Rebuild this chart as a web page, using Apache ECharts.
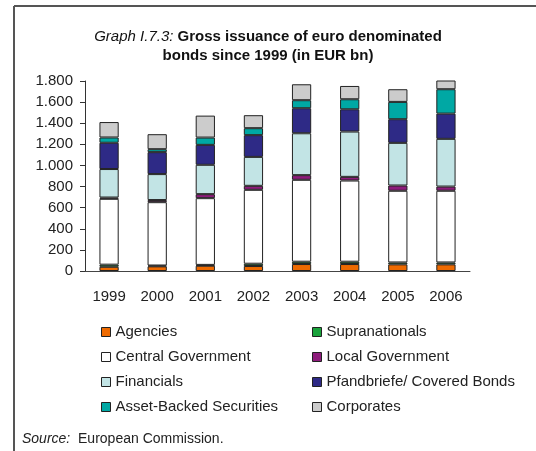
<!DOCTYPE html>
<html>
<head>
<meta charset="utf-8">
<script src="https://cdn.jsdelivr.net/npm/echarts@6/dist/echarts.min.js"></script>
<style>
html,body{margin:0;padding:0;background:#fff;}
#chart{width:536px;height:451px;}
</style>
</head>
<body>
<div id="chart"></div>
<script>
var years = ['1999','2000','2001','2002','2003','2004','2005','2006'];
var yTicks = [0,200,400,600,800,1000,1200,1400,1600,1800];
var agencies       = [40, 44, 50, 47, 66, 66, 63, 63];
var supranationals = [20, 8, 8, 22, 22, 22, 18, 18];
var centralGov     = [624, 600, 632, 700, 776, 769, 679, 679];
var localGov       = [12, 20, 38, 38, 44, 35, 50, 40];
var financials     = [270, 246, 278, 274, 397, 429, 404, 452];
var pfandbriefe    = [249, 208, 189, 206, 237, 211, 224, 239];
var abs            = [50, 28, 69, 66, 76, 95, 164, 231];
var corporates     = [146, 142, 208, 123, 151, 126, 120, 110];

var seriesDefs = [
  ['Agencies', agencies, '#EE6A00'],
  ['Supranationals', supranationals, '#1AA33C'],
  ['Central Government', centralGov, '#FFFFFF'],
  ['Local Government', localGov, '#8E1C7C'],
  ['Financials', financials, '#C2E4E5'],
  ['Pfandbriefe/ Covered Bonds', pfandbriefe, '#2E2A86'],
  ['Asset-Backed Securities', abs, '#00A8A4'],
  ['Corporates', corporates, '#CCCCCC']
];

var chart = echarts.init(document.getElementById('chart'));
var FONT = '"Liberation Sans", Arial, sans-serif';

var series = seriesDefs.map(function(d){
  return {
    name: d[0], type: 'bar', stack: 'total', data: d[1],
    barWidth: '40%',
    itemStyle: {color: d[2], borderColor: '#222', borderWidth: 1},
    emphasis: {disabled: true},
    animation: false
  };
});

var legendCommon = {
  orient: 'vertical', icon: 'rect', itemWidth: 9, itemHeight: 9, itemGap: 9,
  textStyle: {fontFamily: FONT, fontSize: 15, color: '#222', lineHeight: 16},
  itemStyle: {borderColor: '#222', borderWidth: 1},
  selectedMode: false
};

chart.setOption({
  backgroundColor: '#fff',
  animation: false,
  title: {
    text: '{i|Graph I.7.3:} {b|Gross issuance of euro denominated}\n{b|bonds since 1999 (in EUR bn)}',
    left: 'center', top: 22,
    textStyle: {
      fontFamily: FONT, fontSize: 15, color: '#111', lineHeight: 19, fontWeight: 'normal',
      rich: {
        i: {fontFamily: FONT, fontSize: 15, fontStyle: 'italic', fontWeight: 'normal', color: '#111', lineHeight: 19},
        b: {fontFamily: FONT, fontSize: 15, fontWeight: 'bold', color: '#111', lineHeight: 19}
      }
    }
  },
  legend: [
    Object.assign({}, legendCommon, {left: 96, top: 319, data: ['Agencies','Central Government','Financials','Asset-Backed Securities']}),
    Object.assign({}, legendCommon, {left: 307, top: 319, data: ['Supranationals','Local Government','Pfandbriefe/ Covered Bonds','Corporates']})
  ],
  grid: {left: 85, right: 66, top: 81, bottom: 180, containLabel: false},
  xAxis: {
    type: 'category', data: years,
    axisLine: {lineStyle: {color: '#444', width: 1}},
    axisTick: {show: false},
    axisLabel: {fontFamily: FONT, fontSize: 15, color: '#222', margin: 18}
  },
  yAxis: {
    type: 'value', min: yTicks[0], max: yTicks[yTicks.length-1], interval: 200,
    axisLine: {show: true, lineStyle: {color: '#333', width: 1}},
    axisTick: {show: true, length: 5, lineStyle: {color: '#333'}},
    splitLine: {show: false},
    axisLabel: {
      fontFamily: FONT, fontSize: 15, color: '#222', margin: 12,
      formatter: function(v){ return String(v).replace(/\B(?=(\d{3})+(?!\d))/g, '.'); }
    }
  },
  graphic: [
    {type: 'line', shape: {x1: 14, y1: 6, x2: 536, y2: 6}, style: {stroke: '#555', lineWidth: 2}},
    {type: 'line', shape: {x1: 14, y1: 6, x2: 14, y2: 451}, style: {stroke: '#555', lineWidth: 2}},
    {type: 'text', left: 22, top: 432, style: {
      text: '{i|Source:}  European Commission.',
      font: '14px ' + FONT, fill: '#222',
      rich: {i: {fontStyle: 'italic', fontFamily: FONT, fontSize: 14, fill: '#222'}}
    }}
  ],
  series: series
});
</script>
</body>
</html>
